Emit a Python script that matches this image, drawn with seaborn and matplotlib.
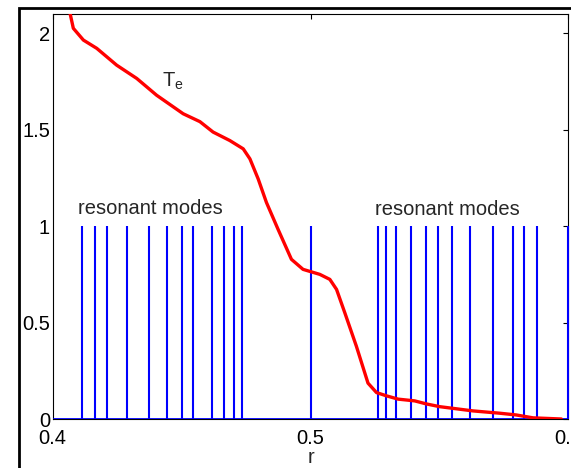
import matplotlib
matplotlib.use('Agg')
import matplotlib.pyplot as plt
import numpy as np
import pandas as pd
import seaborn as sns
from matplotlib.patches import Rectangle

# Te profile
r_te = [0.4063, 0.4080, 0.4119, 0.4171, 0.4248, 0.4326, 0.4403, 0.4506, 0.4571,
        0.4622, 0.4687, 0.4739, 0.4765, 0.4797, 0.4829, 0.4874, 0.4926, 0.4971,
        0.5036, 0.5075, 0.5101, 0.5133, 0.5178, 0.5223, 0.5256, 0.5295, 0.5340,
        0.5404, 0.5450, 0.5501, 0.5630, 0.5734, 0.5798, 0.5863, 0.5973]
te = [2.130, 2.026, 1.965, 1.922, 1.835, 1.766, 1.679, 1.583, 1.542,
      1.488, 1.444, 1.401, 1.349, 1.245, 1.123, 0.984, 0.828, 0.776,
      0.750, 0.724, 0.672, 0.551, 0.377, 0.186, 0.137, 0.120, 0.103,
      0.094, 0.078, 0.064, 0.042, 0.030, 0.021, 0.006, 0.0]

# resonant mode positions
modes_left = [0.4115, 0.4165, 0.4210, 0.4287, 0.4375, 0.4445, 0.4500, 0.4545,
              0.4616, 0.4665, 0.4704, 0.4735]
modes_mid = [0.5000]
modes_right = [0.5263, 0.5294, 0.5333, 0.5390, 0.5448, 0.5494, 0.5549, 0.5620,
               0.5709, 0.5785, 0.5829, 0.5878, 0.5998]
mode_height = 1.0

x_ticks = [0.4, 0.5, 0.6]
y_ticks = [0, 0.5, 1, 1.5, 2]

sns.set_style('white')
plt.rcParams['font.family'] = ['Liberation Sans', 'DejaVu Sans']
plt.rcParams['mathtext.default'] = 'regular'

fig = plt.figure(figsize=(5.71, 4.68), dpi=100)
ax = fig.add_axes([0.0923, 0.1047, 0.9030, 0.8653])

# stems (no markers) plus baseline
modes = modes_left + modes_mid + modes_right
ax.vlines(modes, 0, mode_height, colors='#0000ff', linewidth=1.5, zorder=3,
          clip_on=False)
ax.axhline(0, color='#0000ff', linewidth=2.0, zorder=3)

df = pd.DataFrame({'r': r_te, 'Te': te})
sns.lineplot(data=df, x='r', y='Te', color='#ff0000', linewidth=2.4, ax=ax, zorder=4)

ax.set_xlim(0.4, 0.6)
ax.set_ylim(0, 2.1)
ax.set_xticks(x_ticks)
ax.set_xticklabels(['0.4', '0.5', '0.6'])
ax.set_yticks(y_ticks)
ax.set_yticklabels(['0', '0.5', '1', '1.5', '2'])
ax.tick_params(direction='in', length=3.6, width=0.8, top=True, right=True,
               labelsize=14.5, colors='black')
ax.tick_params(axis='x', pad=7.5)
ax.tick_params(axis='y', pad=2)
ax.set_xlabel('r', fontsize=14.5, labelpad=0)
ax.set_ylabel('')

for s in ax.spines.values():
    s.set_color('black')
    s.set_linewidth(0.8)
    s.set_zorder(2)

ax.text(0.4097, 1.065, 'resonant modes', fontsize=14.5, ha='left', va='baseline')
ax.text(0.5250, 1.060, 'resonant modes', fontsize=14.5, ha='left', va='baseline')
ax.text(0.4424, 1.722, r'$T_e$', fontsize=14.5, ha='left', va='baseline')

# outer frame, cropped at right and bottom
fig.add_artist(Rectangle((19 / 571, -0.1), 1.2, 1 - 8 / 468 + 0.1,
                         transform=fig.transFigure, fill=False,
                         edgecolor='black', linewidth=2.0, clip_on=False))

fig.savefig('out.png', dpi=100)
